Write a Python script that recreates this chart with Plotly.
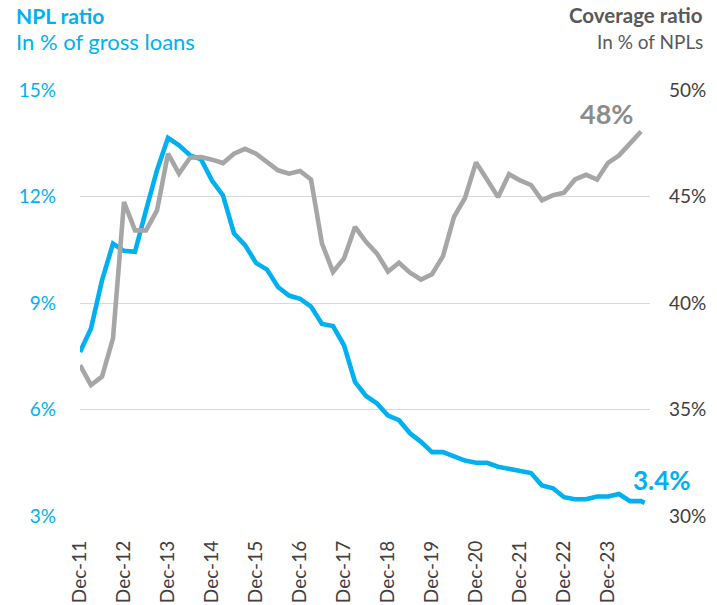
import pandas as pd
import plotly.graph_objects as go

# ---------------- data ----------------
# quarter-end observations, Dec-11 .. Sep-24
quarter_dates = pd.date_range("2011-12-31", "2024-09-30", freq="QE")

npl_ratio = [7.62, 8.28, 9.64, 10.67, 10.47, 10.44, 11.61, 12.74, 13.65, 13.44,
             13.16, 13.05, 12.45, 12.03, 10.96, 10.63, 10.13, 9.94, 9.45, 9.21,
             9.12, 8.90, 8.41, 8.35, 7.81, 6.78, 6.38, 6.17, 5.83, 5.70,
             5.33, 5.09, 4.80, 4.80, 4.68, 4.56, 4.50, 4.50, 4.39, 4.33,
             4.28, 4.21, 3.86, 3.78, 3.53, 3.47, 3.47, 3.55, 3.55, 3.62,
             3.42, 3.42]
npl_latest_date = "2024-10-31"
npl_latest_value = 3.37

coverage_ratio = [37.08, 36.15, 36.54, 38.34, 44.74, 43.41, 43.41, 44.35, 47.01, 46.07,
                  46.82, 46.85, 46.73, 46.57, 47.01, 47.24, 47.01, 46.62, 46.23, 46.07,
                  46.20, 45.80, 42.79, 41.46, 42.09, 43.57, 42.87, 42.32, 41.48, 41.89,
                  41.42, 41.10, 41.35, 42.20, 44.04, 44.93, 46.60, 45.80, 44.97, 46.05,
                  45.76, 45.54, 44.82, 45.06, 45.18, 45.80, 46.02, 45.79, 46.58, 46.93,
                  47.53, 48.05]

tick_dates = ["2011-12-31", "2012-12-31", "2013-12-31", "2014-12-31", "2015-12-31",
              "2016-12-31", "2017-12-31", "2018-12-31", "2019-12-31", "2020-12-31",
              "2021-12-31", "2022-12-31", "2023-12-31"]
tick_labels = ["Dec-11", "Dec-12", "Dec-13", "Dec-14", "Dec-15", "Dec-16", "Dec-17",
               "Dec-18", "Dec-19", "Dec-20", "Dec-21", "Dec-22", "Dec-23"]

npl_ticks = [3, 6, 9, 12, 15]
coverage_ticks = [30, 35, 40, 45, 50]

npl_label = "3.4%"
coverage_label = "48%"

# ---------------- helpers ----------------
def months_since_start(d):
    d = pd.Timestamp(d)
    return (d.year - 2011) * 12 + d.month - 12

x_q = [months_since_start(d) for d in quarter_dates]
x_npl = x_q + [months_since_start(npl_latest_date)]
y_npl = npl_ratio + [npl_latest_value]
x_cov = x_q
tick_vals = [months_since_start(d) for d in tick_dates]

BLUE = "#00B0F0"
GREY = "#A6A6A6"
FONT = "Lato"

W, H = 717, 605
L, R, T, B = 80, 67, 90, 89
PW, PH = W - L - R, H - T - B

def px_x(px):
    return (px - L) / PW

def px_y(py):
    return 1 - (py - T) / PH

fig = go.Figure()
fig.add_trace(go.Scatter(x=x_npl, y=y_npl, mode="lines",
                         line=dict(color=BLUE, width=4.6), yaxis="y",
                         hoverinfo="skip"))
fig.add_trace(go.Scatter(x=x_cov, y=coverage_ratio, mode="lines",
                         line=dict(color=GREY, width=4.6), yaxis="y2",
                         hoverinfo="skip"))

fig.update_layout(
    width=W, height=H,
    margin=dict(l=L, r=R, t=T, b=B, pad=0, autoexpand=False),
    paper_bgcolor="white", plot_bgcolor="white",
    showlegend=False,
    font=dict(family=FONT, size=19, color="#404040"),
    xaxis=dict(range=[0, 155.45], tickmode="array", tickvals=tick_vals,
               ticktext=tick_labels, automargin=False,
               tickangle=-90, showgrid=False, zeroline=False, showline=False,
               ticks="", ticklabelstandoff=20, ticklabelshift=0,
               tickfont=dict(family=FONT, size=19, color="#404040")),
    yaxis=dict(range=[3, 15], tickmode="array", tickvals=npl_ticks,
               ticktext=[f"{v}%" for v in npl_ticks], automargin=False,
               showgrid=True, gridcolor="#D9D9D9", gridwidth=1.3,
               zeroline=False, showline=False, ticks="",
               ticklabelstandoff=23,
               tickfont=dict(family=FONT, size=19, color=BLUE)),
    yaxis2=dict(range=[30, 50], tickmode="array", tickvals=coverage_ticks,
                ticktext=[f"{v}%" for v in coverage_ticks], automargin=False,
                overlaying="y", side="right", showgrid=False, zeroline=False,
                showline=False, ticks="", ticklabelstandoff=18,
                tickfont=dict(family=FONT, size=19, color="#404040")),
)

annotations = [
    dict(text="<b>NPL ratio</b>", x=px_x(14), y=px_y(15), xanchor="left",
         font=dict(family=FONT, size=21, color=BLUE)),
    dict(text="In % of gross loans", x=px_x(14), y=px_y(42), xanchor="left",
         font=dict(family=FONT, size=22, color=BLUE)),
    dict(text="<b>Coverage ratio</b>", x=px_x(705), y=px_y(15), xanchor="right",
         font=dict(family=FONT, size=20.5, color="#595959")),
    dict(text="In % of NPLs", x=px_x(705), y=px_y(42), xanchor="right",
         font=dict(family=FONT, size=19, color="#595959")),
]
for a in annotations:
    a.update(xref="paper", yref="paper", yanchor="middle", showarrow=False)

annotations += [
    dict(text=f"<b>{coverage_label}</b>", x=x_cov[-1], y=coverage_ratio[-1],
         xref="x", yref="y2", showarrow=False, xshift=-35, yshift=18,
         font=dict(family=FONT, size=27, color="#8C8C8C")),
    dict(text=f"<b>{npl_label}</b>", x=x_npl[-1], y=y_npl[-1],
         xref="x", yref="y", showarrow=False, xshift=17, yshift=23,
         font=dict(family=FONT, size=26, color=BLUE)),
]
fig.update_layout(annotations=annotations)

fig.write_html("out.html", config={"displayModeBar": False},
               post_script="document.body.style.margin='0px';"
                           "document.body.style.overflow='hidden';")
